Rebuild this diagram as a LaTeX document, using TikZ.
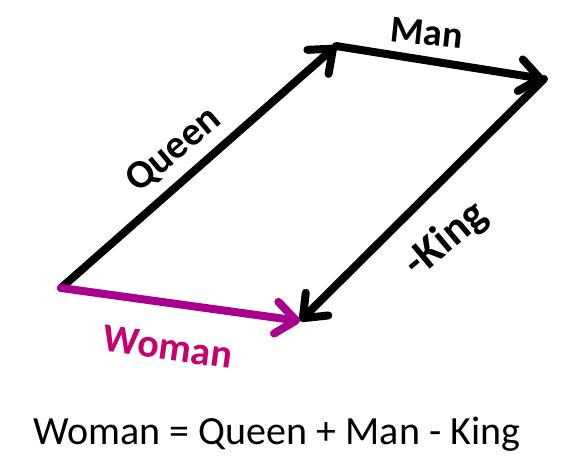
\documentclass[tikz,border=0pt]{standalone}
\usepackage{fontspec}
\setmainfont{Carlito}
\usetikzlibrary{arrows.meta}
\definecolor{wline}{RGB}{168,0,140}
\definecolor{wtext}{RGB}{200,0,110}
\begin{document}
\begin{tikzpicture}[x=1pt,y=-1pt,
  vec/.style={line width=8pt, line cap=round, line join=round,
    -{Straight Barb[length=20pt,width=32pt,round]}},
  hand/.style={font=\fontsize{#1}{#1}\selectfont\bfseries, inner sep=0pt}]
\useasboundingbox (0,0) rectangle (586,467);
\coordinate (A) at (61,288);
\coordinate (B) at (336,46);
\coordinate (C) at (544,79);
\coordinate (D) at (300,321);
\draw[vec] (A) -- (B);
\draw[vec] (B) -- (C);
\draw[vec] (C) -- (D);
\draw[vec, wline] (A) -- (D);
\node[hand=40, rotate=40] (lq) at (174,150) {Queen};
\node[hand=38, rotate=-6] (lm) at (427,33) {Man};
\node[hand=44, rotate=40] (lk) at (446,240) {-King};
\node[hand=40, rotate=-8, text=wtext] (lw) at (168,347) {Woman};
\node[inner sep=0pt, font=\fontsize{40}{46}\selectfont] (eq) at (277,434) {Woman = Queen + Man - King};
\end{tikzpicture}
\end{document}
